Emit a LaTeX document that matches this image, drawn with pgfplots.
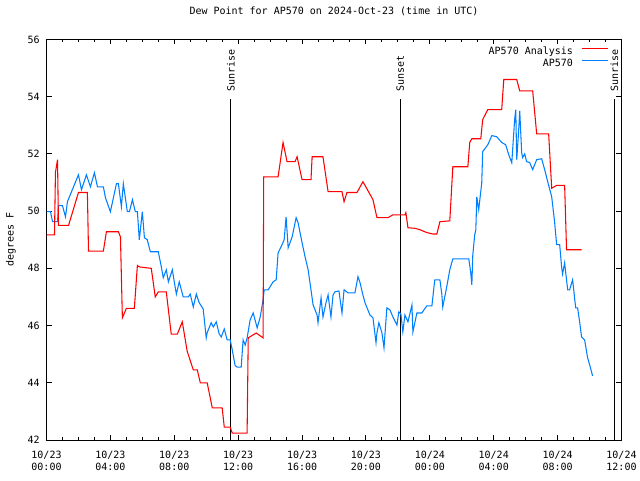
\documentclass[border=0pt]{standalone}
\usepackage{fontspec}
\setmainfont{DejaVu Sans Mono}
\usepackage{pgfplots}
\pgfplotsset{compat=1.18}
\newcommand{\gp}{\fontsize{7.5pt}{9pt}\selectfont}
\definecolor{anared}{RGB}{255,0,0}
\definecolor{obsblue}{RGB}{0,128,255}
\begin{document}
\begin{tikzpicture}
\path[use as bounding box] (0,0) rectangle (480pt,360pt);
\begin{axis}[
    at={(34.875pt,30pt)}, anchor=south west,
    scale only axis,
    width=431.25pt, height=300.4pt,
    xmin=0, xmax=36, ymin=42, ymax=56,
    axis line style={black, line width=0.75pt},
    tick style={black, line width=0.75pt},
    tick align=inside,
    major tick length=3.75pt, minor tick length=1.9pt,
    xtick={0,4,...,36}, minor x tick num=3,
    ytick={42,44,...,56},
    xticklabels={{10/23\\00:00},{10/23\\04:00},{10/23\\08:00},{10/23\\12:00},{10/23\\16:00},{10/23\\20:00},{10/24\\00:00},{10/24\\04:00},{10/24\\08:00},{10/24\\12:00}},
    xticklabel style={font=\gp, align=center, inner sep=0pt, yshift=-8.25pt},
    yticklabel style={font=\gp, inner sep=0pt, xshift=-4.9pt},
    /pgf/number format/assume math mode=true,
    title={Dew Point for AP570 on 2024-Oct-23 (time in UTC)},
    title style={font=\gp, at={(0.5,1)}, anchor=base, yshift=12.75pt, inner sep=0pt},
    ylabel={degrees F},
    ylabel style={font=\gp, at={(axis description cs:-0.0617,0.5)}, anchor=center},
    reverse legend,
    legend plot pos=right,
    legend cell align=right,
    legend style={at={(rel axis cs:1,1)}, anchor=north east, xshift=-9.4pt, yshift=-5.4pt,
        draw=none, fill=none, inner sep=0pt, row sep=2pt, column sep=0pt, font=\gp,
        nodes={inner sep=0pt, text height=5.5pt, text depth=1.5pt}},
    legend image code/.code={\path (0pt,0pt); \draw[#1, line width=0.75pt] (6pt,2.6pt) -- (26pt,2.6pt);},
]
% sunrise / sunset markers
\addplot[black, line width=0.75pt, forget plot] coordinates {(11.54,42) (11.54,53.93)};
\addplot[black, line width=0.75pt, forget plot] coordinates {(22.14,42) (22.14,53.93)};
\addplot[black, line width=0.75pt, forget plot] coordinates {(35.56,42) (35.56,53.93)};
\node[rotate=90, anchor=west, inner sep=0pt, font=\gp] at (axis cs:11.54,54.165) {Sunrise};
\node[rotate=90, anchor=west, inner sep=0pt, font=\gp] at (axis cs:22.14,54.165) {Sunset};
\node[rotate=90, anchor=west, inner sep=0pt, font=\gp] at (axis cs:35.56,54.165) {Sunrise};

% AP570 observations
\addplot[color=obsblue, line width=0.8pt] coordinates {
    (0.0,49.98) (0.25,49.98) (0.38,49.63) (0.69,49.63) (0.75,50.19) (1.0,50.19)
    (1.19,49.8) (1.31,50.33) (2.0,51.27) (2.19,50.75) (2.5,51.27) (2.75,50.85)
    (3.0,51.34) (3.19,50.85) (3.56,50.85) (3.69,50.47) (4.0,49.98) (4.38,50.96)
    (4.5,50.96) (4.69,50.15) (4.81,50.96) (5.06,49.98) (5.19,49.98) (5.38,50.4)
    (5.56,49.98) (5.69,49.98) (5.81,49.0) (6.0,49.98) (6.13,49.07) (6.31,49.0)
    (6.5,48.58) (7.0,48.58) (7.19,48.05) (7.31,47.67) (7.5,47.95) (7.63,47.53)
    (7.88,47.95) (8.0,47.53) (8.13,47.1) (8.31,47.53) (8.56,47.0) (8.88,47.0)
    (9.0,47.1) (9.19,46.65) (9.38,47.1) (9.56,46.8) (9.81,46.58) (10.0,45.57)
    (10.06,45.75) (10.31,46.1) (10.44,45.95) (10.63,46.13) (10.81,45.71) (10.94,45.6)
    (11.13,45.88) (11.31,45.5) (11.5,45.5) (11.63,45.15) (11.81,44.6) (11.94,44.55)
    (12.19,44.55) (12.31,45.5) (12.44,45.32) (12.56,45.57) (12.75,46.2) (12.94,46.44)
    (13.19,45.92) (13.38,46.3) (13.56,46.9) (13.63,47.25) (13.88,47.25) (14.19,47.53)
    (14.38,47.6) (14.5,48.54) (14.75,48.83) (14.88,49.0) (15.0,49.8) (15.13,48.72)
    (15.38,49.1) (15.63,49.77) (15.75,49.6) (16.0,48.9) (16.19,48.4) (16.38,47.95)
    (16.56,47.25) (16.69,46.72) (16.94,46.37) (17.0,46.1) (17.19,46.97) (17.31,46.3)
    (17.5,46.8) (17.63,47.07) (17.81,46.3) (17.94,47.07) (18.06,47.18) (18.31,47.21)
    (18.5,46.44) (18.63,47.25) (18.88,47.14) (19.31,47.14) (19.5,47.71) (19.63,47.5)
    (19.81,47.07) (19.94,46.8) (20.25,46.37) (20.44,46.27) (20.63,45.4) (20.69,45.75)
    (20.81,46.1) (21.0,45.75) (21.13,45.22) (21.31,46.62) (21.5,46.55) (21.69,46.3)
    (21.94,46.02) (22.06,46.48) (22.19,46.4) (22.31,45.78) (22.44,46.37) (22.63,46.13)
    (22.88,46.72) (22.94,45.78) (23.19,46.44) (23.5,46.44) (23.81,46.69) (24.13,46.69)
    (24.31,47.6) (24.63,47.6) (24.75,47.1) (24.81,46.65) (25.06,47.36) (25.25,47.95)
    (25.44,48.33) (26.44,48.33) (26.56,47.85) (26.63,47.42) (26.69,48.47) (26.81,49.17)
    (26.88,49.35) (26.94,50.5) (27.06,50.05) (27.25,50.99) (27.31,52.08) (27.63,52.32)
    (27.88,52.64) (28.19,52.6) (28.5,52.4) (28.75,52.32) (28.94,51.97) (29.13,51.69)
    (29.31,53.2) (29.38,53.55) (29.44,51.8) (29.56,52.8) (29.63,53.5) (29.75,52.04)
    (29.81,51.87) (29.94,52.0) (30.06,51.73) (30.25,51.7) (30.44,51.45) (30.69,51.8)
    (31.0,51.83) (31.19,51.45) (31.38,51.03) (31.63,50.5) (31.81,49.63) (31.94,48.83)
    (32.13,48.83) (32.25,48.05) (32.31,47.8) (32.44,48.19) (32.63,47.25) (32.75,47.25)
    (32.94,47.6) (33.13,46.62) (33.25,46.62) (33.38,46.13) (33.5,45.6) (33.69,45.5)
    (33.88,44.87) (34.06,44.52) (34.19,44.24)
};
\addlegendentry{AP570}

% AP570 analysis
\addplot[color=anared, line width=0.8pt] coordinates {
    (0.0,49.17) (0.5,49.17) (0.56,51.35) (0.69,51.8) (0.75,49.5) (1.38,49.5)
    (2.0,50.65) (2.56,50.65) (2.63,48.6) (3.56,48.6) (3.75,49.28) (4.5,49.28)
    (4.63,49.1) (4.75,46.27) (5.0,46.6) (5.5,46.6) (5.69,48.1) (5.81,48.05)
    (6.56,48.0) (6.81,47.0) (7.0,47.18) (7.5,47.18) (7.81,45.7) (8.19,45.7)
    (8.5,46.13) (8.81,45.1) (9.19,44.45) (9.44,44.45) (9.63,44.0) (10.06,44.0)
    (10.38,43.12) (11.0,43.12) (11.13,42.45) (11.5,42.45) (11.63,42.24) (12.56,42.24)
    (12.63,45.57) (13.13,45.74) (13.56,45.57) (13.6,51.2) (14.5,51.2) (14.81,52.4)
    (15.06,51.73) (15.56,51.73) (15.69,51.9) (16.0,51.1) (16.56,51.1) (16.63,51.9)
    (17.31,51.9) (17.63,50.68) (18.5,50.68) (18.63,50.33) (18.81,50.65) (19.44,50.65)
    (19.81,51.03) (20.44,50.4) (20.69,49.77) (21.38,49.77) (21.69,49.87) (22.44,49.87)
    (22.5,49.95) (22.63,49.42) (23.06,49.4) (23.38,49.35) (23.81,49.25) (24.19,49.2)
    (24.44,49.2) (24.63,49.63) (25.25,49.66) (25.44,51.55) (26.38,51.55) (26.5,52.4)
    (26.63,52.53) (27.19,52.53) (27.31,53.2) (27.63,53.55) (28.5,53.55) (28.63,54.6)
    (29.44,54.6) (29.63,54.2) (30.44,54.2) (30.69,52.7) (31.44,52.7) (31.63,50.8)
    (31.94,50.9) (32.44,50.9) (32.56,48.65) (33.5,48.65)
};
\addlegendentry{AP570 Analysis}
\end{axis}
\end{tikzpicture}
\end{document}
